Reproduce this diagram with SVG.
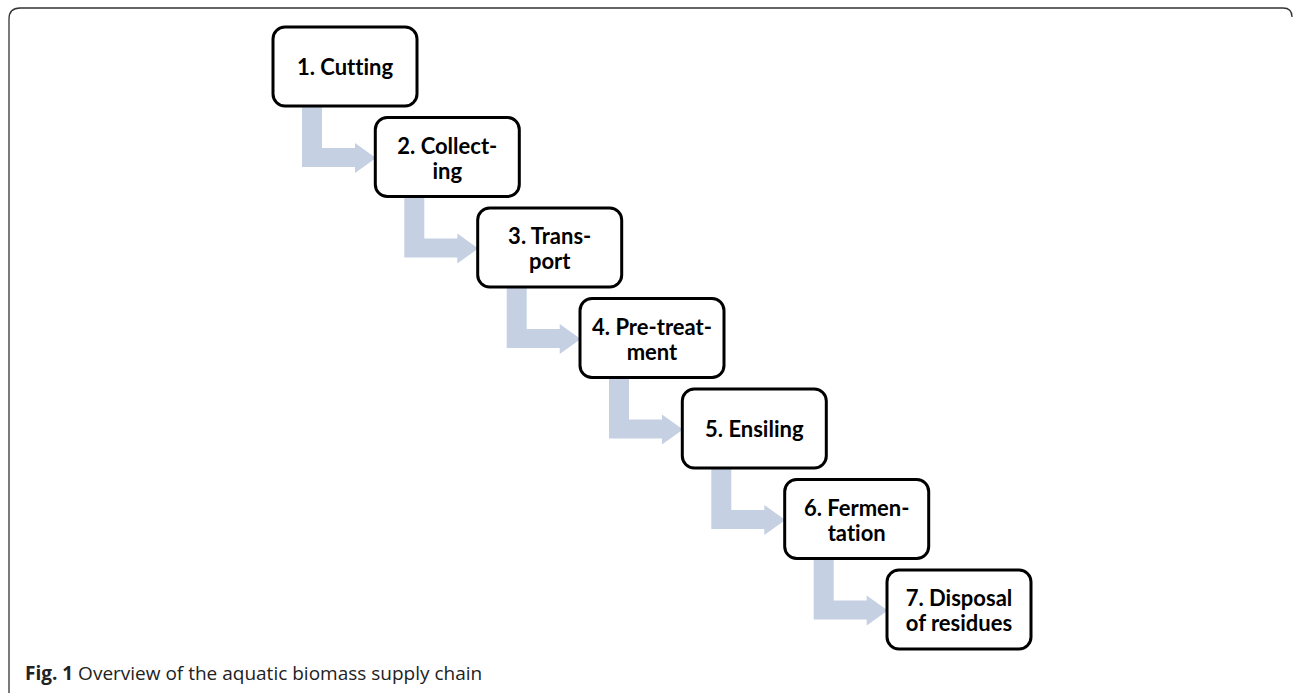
<svg xmlns="http://www.w3.org/2000/svg" xmlns:xlink="http://www.w3.org/1999/xlink" width="1293" height="693" viewBox="0 0 1293 693">
<style>
.box{fill:#fff;stroke:#000;stroke-width:3}
.lbl{font-family:Lato,"Liberation Sans",sans-serif;font-weight:bold;font-size:22px;fill:#000;text-anchor:middle;font-variant-ligatures:none}
.arr{fill:#c5d0e3}
.frame{fill:none;stroke:#333;stroke-width:1.3}
.cap{font-family:"Open Sans","Liberation Sans",sans-serif;font-size:19px;fill:#222}
</style>
<defs>
<path id="bent" d="M29,79 H49 V121 H82 V116 L103,131 L82,146 V140 H29 Z"/>
</defs>
<rect width="1293" height="693" fill="#fff"/>
<path class="frame" d="M9,693 V19 Q9,8 20,8 H1283 Q1292,8 1292,17"/>
<g id="connectors" class="arr">
<use xlink:href="#bent" transform="translate(273,27)"/>
<use xlink:href="#bent" transform="translate(375.3,117.5)"/>
<use xlink:href="#bent" transform="translate(477.7,208)"/>
<use xlink:href="#bent" transform="translate(580,298.5)"/>
<use xlink:href="#bent" transform="translate(682.3,389)"/>
<use xlink:href="#bent" transform="translate(784.7,479.5)"/>
</g>
<g id="n1" transform="translate(273,27)"><rect class="box" x="0" y="0" width="144" height="79" rx="12"/><text class="lbl" x="72" y="48">1. Cutting</text></g>
<g id="n2" transform="translate(375.3,117.5)"><rect class="box" x="0" y="0" width="144" height="79" rx="12"/><text class="lbl" x="72" y="36">2. Collect-</text><text class="lbl" x="72" y="61">ing</text></g>
<g id="n3" transform="translate(477.7,208)"><rect class="box" x="0" y="0" width="144" height="79" rx="12"/><text class="lbl" x="72" y="36">3. Trans-</text><text class="lbl" x="72" y="61">port</text></g>
<g id="n4" transform="translate(580,298.5)"><rect class="box" x="0" y="0" width="144" height="79" rx="12"/><text class="lbl" x="72" y="36">4. Pre-treat-</text><text class="lbl" x="72" y="61">ment</text></g>
<g id="n5" transform="translate(682.3,389)"><rect class="box" x="0" y="0" width="144" height="79" rx="12"/><text class="lbl" x="72" y="48">5. Ensiling</text></g>
<g id="n6" transform="translate(784.7,479.5)"><rect class="box" x="0" y="0" width="144" height="79" rx="12"/><text class="lbl" x="72" y="36">6. Fermen-</text><text class="lbl" x="72" y="61">tation</text></g>
<g id="n7" transform="translate(887,570)"><rect class="box" x="0" y="0" width="144" height="79" rx="12"/><text class="lbl" x="72" y="36">7. Disposal</text><text class="lbl" x="72" y="61">of residues</text></g>
<text class="cap" x="25" y="680"><tspan font-weight="bold">Fig. 1</tspan> Overview of the aquatic biomass supply chain</text>
</svg>
